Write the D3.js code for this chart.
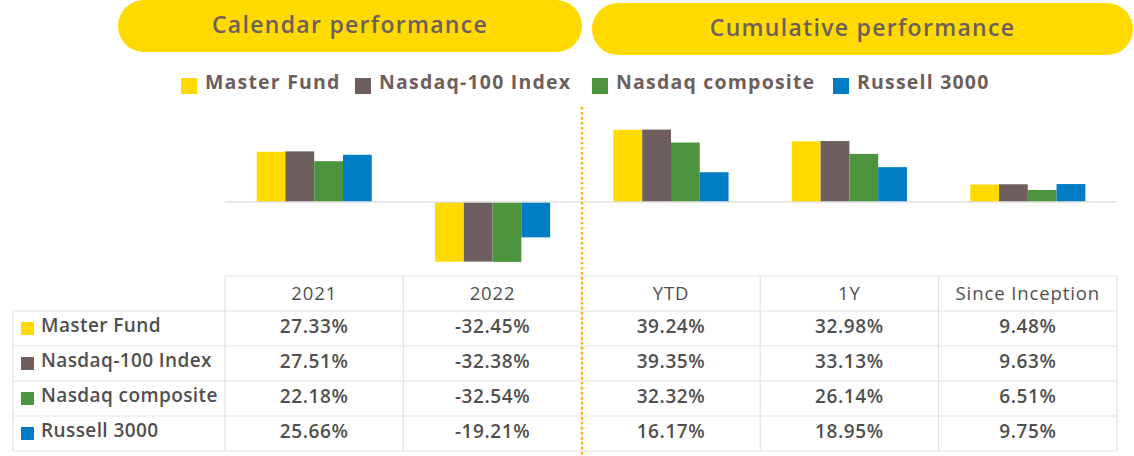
<!DOCTYPE html>
<html>
<head>
<meta charset="utf-8">
<script src="https://cdn.jsdelivr.net/npm/d3@7"></script>
<style>
  html, body { margin: 0; padding: 0; background: #fff; }
  svg text { font-family: "Open Sans", "DejaVu Sans", sans-serif; }
</style>
</head>
<body>
<svg id="chart" width="1134" height="456"></svg>
<script>
// Performance figures (percent)
const periods = ["2021", "2022", "YTD", "1Y", "Since Inception"]
const series = ["Master Fund", "Nasdaq-100 Index", "Nasdaq composite", "Russell 3000"]
const masterFund = [27.33, -32.45, 39.24, 32.98, 9.48]
const nasdaq100 = [27.51, -32.38, 39.35, 33.13, 9.63]
const nasdaqComposite = [22.18, -32.54, 32.32, 26.14, 6.51]
const russell3000 = [25.66, -19.21, 16.17, 18.95, 9.75]
const seriesColors = ["#FFDA00", "#6E5F5E", "#4C943E", "#007DC5"]
const sections = ["Calendar performance", "Cumulative performance"]

const values = [masterFund, nasdaq100, nasdaqComposite, russell3000]
const fmt = v => v.toFixed(2) + "%"

const svg = d3.select("#chart")
const textColor = "#505050"
const titleColor = "#6E5F5E"
const gridColor = "#e3e3e3"

// Layout
const tableLeft = 13, plotLeft = 225, plotRight = 1117
const headerTop = 276, rowH = 35

const x = d3.scaleBand().domain(periods).range([plotLeft, plotRight])
const xInner = d3.scaleBand().domain(series).range([0, x.bandwidth()]).paddingOuter(1.1)
const y = d3.scaleLinear().domain([-40, 50]).range([275.6, 110])

// Section title pills
const pills = [
  {label: sections[0], x0: 118, x1: 582, y0: 0, y1: 52},
  {label: sections[1], x0: 592, x1: 1133, y0: 3, y1: 55}
]
svg.selectAll(".pill")
  .data(pills)
  .enter()
  .append("rect")
  .attr("class", "pill")
  .attr("x", d => d.x0)
  .attr("y", d => d.y0)
  .attr("width", d => d.x1 - d.x0)
  .attr("height", d => d.y1 - d.y0)
  .attr("rx", 26)
  .style("fill", "#FFDA00")
svg.selectAll(".pill-label")
  .data(pills)
  .enter()
  .append("text")
  .attr("x", d => (d.x0 + d.x1) / 2)
  .attr("y", d => d.y0 + 33)
  .attr("text-anchor", "middle")
  .style("font-size", "23px")
  .style("font-weight", 600)
  .style("letter-spacing", "1.3px")
  .style("fill", titleColor)
  .text(d => d.label)

// Legend along the top
const legendX = [181, 355, 592, 833]
const legend = svg.selectAll(".legend")
  .data(series)
  .enter()
  .append("g")
  .attr("class", "legend")
  .attr("transform", (d, i) => `translate(${legendX[i]},78)`)
legend.append("rect")
  .attr("width", 16).attr("height", 16)
  .style("fill", (d, i) => seriesColors[i])
legend.append("text")
  .attr("x", 24).attr("y", 11)
  .style("font-size", "19.5px")
  .style("font-weight", 700)
  .style("letter-spacing", "1.2px")
  .style("fill", titleColor)
  .text(d => d)

// Bars
const bars = []
periods.forEach((p, pi) => series.forEach((s, si) => bars.push({period: p, name: s, si, value: values[si][pi]})))
svg.append("g")
  .selectAll("rect")
  .data(bars)
  .enter()
  .append("rect")
  .attr("x", d => x(d.period) + xInner(d.name))
  .attr("width", xInner.bandwidth())
  .attr("y", d => y(Math.max(0, d.value)))
  .attr("height", d => Math.abs(y(d.value) - y(0)))
  .style("fill", d => seriesColors[d.si])

// Zero line
svg.append("line")
  .attr("x1", plotLeft).attr("x2", plotRight)
  .attr("y1", y(0)).attr("y2", y(0))
  .style("stroke", "#e0e0e0").style("stroke-width", 1.5)

// Table grid
const grid = svg.append("g").style("stroke", gridColor).style("stroke-width", 1.2)
grid.append("line").attr("x1", plotLeft).attr("x2", plotRight).attr("y1", headerTop).attr("y2", headerTop)
d3.range(series.length + 1).forEach(i => {
  const yy = headerTop + rowH * (i + 1)
  grid.append("line").attr("x1", tableLeft).attr("x2", plotRight).attr("y1", yy).attr("y2", yy)
})
grid.append("line").attr("x1", tableLeft).attr("x2", tableLeft)
  .attr("y1", headerTop + rowH).attr("y2", headerTop + rowH * 5)
periods.concat(["end"]).forEach((p, i) => {
  const xx = i < periods.length ? x(p) : plotRight
  grid.append("line").attr("x1", xx).attr("x2", xx).attr("y1", headerTop).attr("y2", headerTop + rowH * 5)
})

// Column headers
svg.selectAll(".col-head")
  .data(periods)
  .enter()
  .append("text")
  .attr("x", d => x(d) + x.bandwidth() / 2)
  .attr("y", headerTop + 24)
  .attr("text-anchor", "middle")
  .style("font-size", "18.5px")
  .style("font-weight", 500)
  .style("letter-spacing", "0.9px")
  .style("fill", textColor)
  .text(d => d)

// Row labels with colour keys
const rows = svg.selectAll(".row")
  .data(series)
  .enter()
  .append("g")
  .attr("transform", (d, i) => `translate(0,${headerTop + rowH * (i + 1)})`)
rows.append("rect")
  .attr("x", 21).attr("y", 11).attr("width", 13).attr("height", 13)
  .style("fill", (d, i) => seriesColors[i])
rows.append("text")
  .attr("x", 41).attr("y", 21)
  .style("font-size", "19px")
  .style("font-weight", 600)
  .style("letter-spacing", "0.4px")
  .style("fill", textColor)
  .text(d => d)

// Cell values
rows.each(function (s, si) {
  d3.select(this).selectAll(".cell")
    .data(values[si])
    .enter()
    .append("text")
    .attr("x", (v, pi) => x(periods[pi]) + x.bandwidth() / 2)
    .attr("y", 22)
    .attr("text-anchor", "middle")
    .style("font-size", "19px")
    .style("font-weight", 600)
    .style("letter-spacing", "0.6px")
    .style("fill", textColor)
    .text(v => fmt(v))
})

// Dotted divider between calendar and cumulative sections
svg.append("line")
  .attr("x1", 582).attr("x2", 582)
  .attr("y1", 107).attr("y2", 456)
  .style("stroke", "#F9B900")
  .style("stroke-width", 2.5)
  .style("stroke-dasharray", "2.5,2.5")
</script>
</body>
</html>
